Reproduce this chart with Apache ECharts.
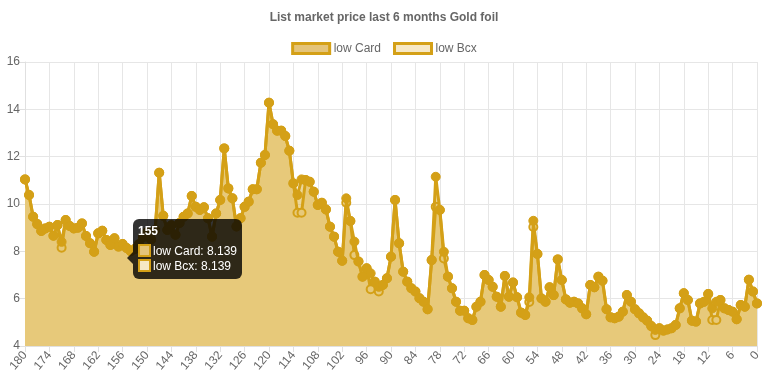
<!DOCTYPE html>
<html>
<head>
<meta charset="utf-8">
<script src="https://cdn.jsdelivr.net/npm/echarts@6/dist/echarts.min.js"></script>
<style>
html,body{margin:0;padding:0;background:#fff;}
#chart{width:768px;height:384px;}
</style>
</head>
<body>
<div id="chart"></div>
<script>
// Days before today (x categories)
var categories = [];
for (var d = 180; d >= 0; d--) categories.push(String(d));

var cardValues = [
  11.04,10.38,9.46,9.15,8.86,8.97,9.04,8.66,9.11,8.40,
  9.32,9.07,8.97,9.00,9.18,8.65,8.34,7.98,8.76,8.87,
  8.48,8.27,8.55,8.20,8.31,8.139,8.00,8.10,8.30,8.60,
  8.80,8.50,8.90,11.32,9.50,8.90,9.10,8.70,9.20,9.46,
  9.60,10.34,9.88,9.75,9.86,9.40,8.62,9.60,10.17,12.35,
  10.66,10.24,9.05,9.40,9.88,10.10,10.62,10.62,11.74,12.07,
  14.28,13.37,13.10,13.10,12.87,12.25,10.87,10.38,11.04,11.01,
  10.94,10.52,9.96,10.05,9.77,9.04,8.62,7.98,7.60,10.24,
  9.28,8.41,7.57,6.93,7.28,7.07,6.72,6.50,6.58,6.86,
  7.77,10.17,8.34,7.14,6.72,6.44,6.30,6.02,5.87,5.55,
  7.63,11.15,9.75,7.98,6.93,6.44,5.87,5.49,5.49,5.17,
  5.10,5.66,5.87,7.00,6.79,6.50,6.08,5.66,6.96,6.08,
  6.68,6.06,5.41,5.31,6.06,9.29,7.89,6.01,5.87,6.48,
  6.15,7.66,6.79,5.97,5.83,5.87,5.80,5.59,5.34,6.58,
  6.48,6.93,6.76,5.55,5.21,5.17,5.24,5.45,6.15,5.87,
  5.55,5.38,5.21,5.07,4.84,4.68,4.75,4.65,4.70,4.75,
  4.89,5.59,6.23,5.94,5.07,5.03,5.80,5.87,6.20,5.59,
  5.87,5.94,5.59,5.52,5.45,5.13,5.73,5.66,6.80,6.30,
  5.80
];

var bcxValues = [
  11.04,10.38,9.46,9.15,8.86,8.97,9.04,8.66,9.11,8.15,
  9.32,9.07,8.97,9.00,9.18,8.65,8.34,7.98,8.76,8.87,
  8.48,8.27,8.55,8.20,8.31,8.139,8.00,8.10,8.30,8.60,
  8.80,8.50,8.90,11.32,9.50,8.90,9.10,8.70,9.20,9.46,
  9.60,10.34,9.88,9.75,9.86,9.40,8.62,9.60,10.17,12.35,
  10.66,10.24,9.05,9.40,9.88,10.10,10.62,10.62,11.74,12.07,
  14.28,13.37,13.10,13.10,12.87,12.25,10.87,9.63,9.63,11.01,
  10.94,10.52,9.96,10.05,9.77,9.04,8.62,7.98,7.60,10.05,
  9.28,7.84,7.57,6.93,7.28,6.40,6.72,6.30,6.58,6.86,
  7.77,10.17,8.34,7.14,6.72,6.44,6.30,6.02,5.87,5.55,
  7.63,9.88,9.75,7.70,6.93,6.44,5.87,5.49,5.49,5.17,
  5.10,5.66,5.87,7.00,6.79,6.50,6.08,5.66,6.96,6.08,
  6.68,6.06,5.41,5.31,5.86,9.03,7.89,6.01,5.87,6.48,
  6.15,7.66,6.79,5.97,5.83,5.87,5.80,5.59,5.34,6.58,
  6.48,6.93,6.76,5.55,5.21,5.17,5.24,5.45,6.15,5.87,
  5.55,5.38,5.21,5.07,4.84,4.46,4.75,4.65,4.70,4.75,
  4.89,5.59,6.23,5.94,5.07,5.03,5.80,5.87,6.20,5.10,
  5.10,5.94,5.59,5.52,5.45,5.13,5.73,5.66,6.80,6.30,
  5.80
];

var seriesNames = ['low Card', 'low Bcx'];
var titleText = 'List market price last 6 months Gold foil';
var tooltipIndex = 25; // category "155"

var GOLD = '#d4a017';
var CARD_FILL = '#e4c47a';
var BCX_FILL = '#f6e8c6';
var FONT = '"Liberation Sans", Arial, Helvetica, sans-serif';

var chart = echarts.init(document.getElementById('chart'), null, {renderer: 'canvas'});

function swatch(fill) {
  return '<span style="display:inline-block;width:9px;height:9px;border:2px solid ' + GOLD +
    ';background:' + fill + ';vertical-align:-2px;margin-right:2px;"></span>';
}

var option = {
  animation: false,
  backgroundColor: '#fff',
  title: {
    text: titleText,
    left: 'center',
    top: 7,
    textStyle: {fontFamily: FONT, fontSize: 12, fontWeight: 'bold', color: '#666'}
  },
  legend: {
    top: 37,
    left: 'center',
    itemGap: 12,
    itemWidth: 37,
    itemHeight: 10,
    icon: 'rect',
    textStyle: {fontFamily: FONT, fontSize: 12, color: '#666', padding: [0, 0, 0, -1]},
    data: [
      {name: seriesNames[0], itemStyle: {color: CARD_FILL, borderColor: GOLD, borderWidth: 3}},
      {name: seriesNames[1], itemStyle: {color: BCX_FILL, borderColor: GOLD, borderWidth: 3}}
    ]
  },
  grid: {left: 25, right: 11, top: 62, bottom: 38, containLabel: false},
  tooltip: {
    trigger: 'item',
    alwaysShowContent: true,
    transitionDuration: 0,
    showDelay: 0,
    position: [133, 219],
    backgroundColor: 'rgba(0,0,0,0.8)',
    borderWidth: 0,
    padding: [6, 5, 6, 5],
    extraCssText: 'border-radius:6px;box-shadow:none;line-height:13px;',
    textStyle: {fontFamily: FONT, fontSize: 12, color: '#fff'},
    formatter: function () {
      var i = tooltipIndex;
      return '<div style="position:relative;font-family:' + FONT.replace(/"/g, "'") + ';">' +
        '<div style="position:absolute;left:-11px;top:27px;width:0;height:0;border-top:6px solid transparent;border-bottom:6px solid transparent;border-right:6px solid rgba(0,0,0,0.8);"></div>' +
        '<div style="font-weight:bold;margin-bottom:6px;">' + categories[i] + '</div>' +
        '<div style="margin-bottom:1px;">' + swatch(CARD_FILL) + seriesNames[0] + ': ' + cardValues[i] + '</div>' +
        '<div>' + swatch(BCX_FILL) + seriesNames[1] + ': ' + bcxValues[i] + '</div>' +
        '</div>';
    }
  },
  xAxis: {
    type: 'category',
    data: categories,
    boundaryGap: false,
    axisLine: {show: true, lineStyle: {color: '#e0e0e0'}},
    axisTick: {show: true, interval: 5, length: 6, lineStyle: {color: '#e0e0e0'}},
    axisLabel: {interval: 5, rotate: 50, color: '#666', fontFamily: FONT, fontSize: 12, margin: 7},
    splitLine: {show: true, interval: 5, lineStyle: {color: '#e6e6e6'}}
  },
  yAxis: {
    type: 'value',
    min: 4,
    max: 16,
    interval: 2,
    axisLine: {show: true, lineStyle: {color: '#e0e0e0'}},
    axisTick: {show: true, length: 6, lineStyle: {color: '#e0e0e0'}},
    axisLabel: {color: '#666', fontFamily: FONT, fontSize: 12, margin: 5},
    splitLine: {show: true, lineStyle: {color: '#e6e6e6'}}
  },
  series: [
    {
      name: seriesNames[1],
      type: 'line',
      data: bcxValues,
      symbol: 'circle',
      symbolSize: 8,
      showAllSymbol: true,
      lineStyle: {color: GOLD, width: 3},
      itemStyle: {color: BCX_FILL, borderColor: GOLD, borderWidth: 2},
      areaStyle: {color: BCX_FILL, origin: 'start', opacity: 1},
      emphasis: {disabled: true},
      z: 2
    },
    {
      name: seriesNames[0],
      type: 'line',
      data: cardValues,
      symbol: 'circle',
      symbolSize: 9,
      showAllSymbol: true,
      lineStyle: {color: GOLD, width: 3},
      itemStyle: {color: GOLD, borderColor: GOLD, borderWidth: 1},
      areaStyle: {color: 'rgba(212,160,23,0.62)', origin: 'start'},
      emphasis: {disabled: true},
      z: 3
    }
  ]
};

chart.setOption(option);
chart.dispatchAction({type: 'showTip', seriesIndex: 1, dataIndex: tooltipIndex});
</script>
</body>
</html>
